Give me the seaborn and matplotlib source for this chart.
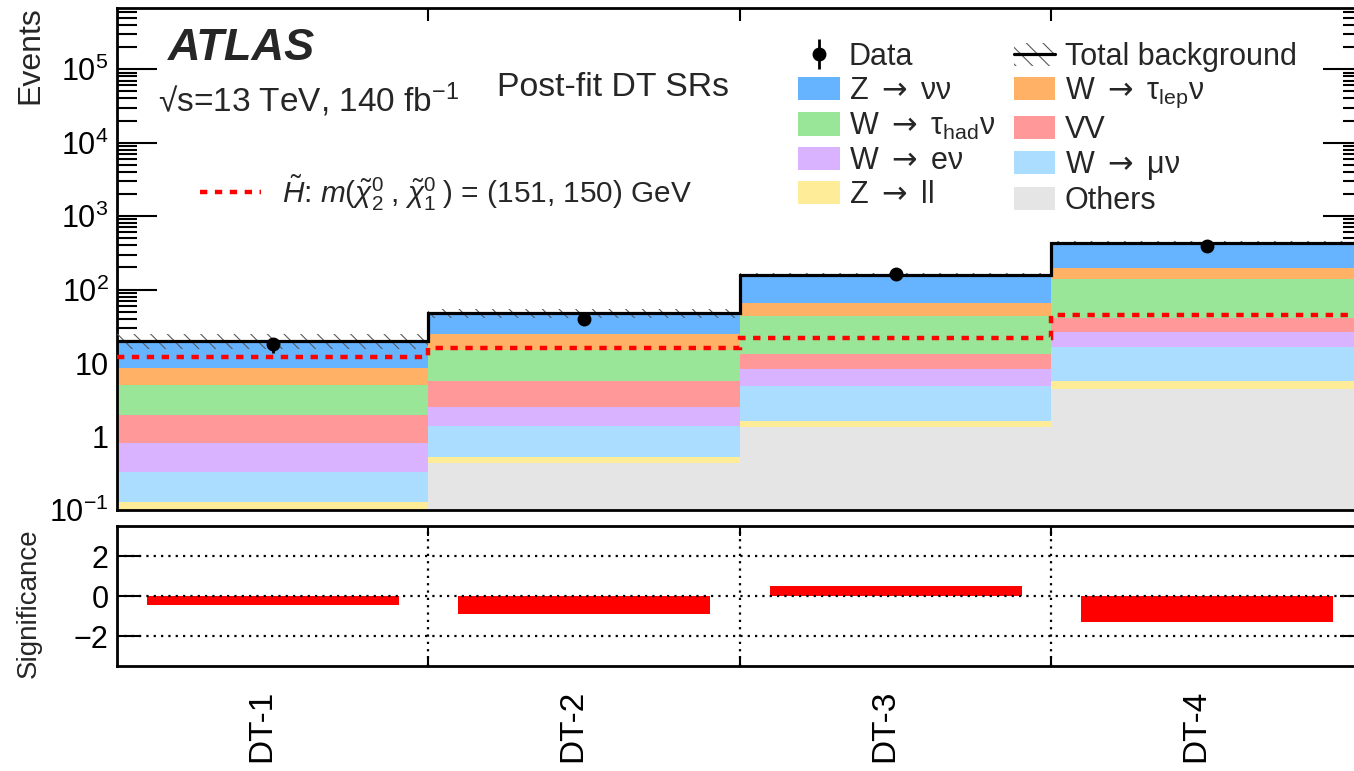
import matplotlib

matplotlib.use("Agg")
import matplotlib.pyplot as plt
import numpy as np
import pandas as pd
import seaborn as sns
from matplotlib.lines import Line2D
from matplotlib.patches import Patch
from matplotlib.ticker import FixedLocator, FuncFormatter, LogLocator, NullFormatter
from matplotlib.transforms import ScaledTranslation

regions = ["DT-1", "DT-2", "DT-3", "DT-4"]

# background processes, top of the stack first
processes = ["Zvv", "Wtaulep", "Wtauhad", "VV", "Wev", "Wmuv", "Zll", "Others"]
ARROW = "$\\mathsf{\\rightarrow}$"
labels = {
    "Zvv": f"Z {ARROW} νν",
    "Wtaulep": f"W {ARROW} τ$_{{\\mathrm{{lep}}}}$ν",
    "Wtauhad": f"W {ARROW} τ$_{{\\mathrm{{had}}}}$ν",
    "VV": "VV",
    "Wev": f"W {ARROW} eν",
    "Wmuv": f"W {ARROW} μν",
    "Zll": f"Z {ARROW} ll",
    "Others": "Others",
}
colors = {
    "Zvv": "#66b3ff",
    "Wtaulep": "#ffb266",
    "Wtauhad": "#99e699",
    "VV": "#ff9999",
    "Wev": "#d9b3ff",
    "Wmuv": "#aaddff",
    "Zll": "#ffec99",
    "Others": "#e5e5e5",
}

# post-fit yields per region
zvv = [11.6, 22.9, 92.0, 232.0]
wtaulep = [3.6, 9.9, 21.6, 59.0]
wtauhad = [3.0, 9.45, 31.0, 97.3]
vv = [1.17, 3.09, 5.0, 13.9]
wev = [0.49, 1.15, 3.36, 10.2]
wmuv = [0.2, 0.88, 3.31, 10.9]
zll = [0.05, 0.09, 0.29, 1.26]
others = [0.08, 0.44, 1.34, 4.46]
bkg_unc = [4.5, 7.0, 9.0, 25.0]

data = [18, 40, 165, 398]
signal = [12.0, 16.1, 21.7, 44.7]
significance = [-0.45, -0.9, 0.5, -1.3]

yields = {
    "Zvv": zvv,
    "Wtaulep": wtaulep,
    "Wtauhad": wtauhad,
    "VV": vv,
    "Wev": wev,
    "Wmuv": wmuv,
    "Zll": zll,
    "Others": others,
}

stack = pd.DataFrame(
    [
        {"region": i, "process": p, "events": yields[p][i]}
        for p in processes
        for i in range(len(regions))
    ]
)
total = np.sum([yields[p] for p in processes], axis=0)
edges = np.arange(len(regions) + 1) - 0.5
centers = np.arange(len(regions))

sns.set_theme(style="white")
plt.rcParams["font.family"] = ["Liberation Sans", "DejaVu Sans"]
plt.rcParams["mathtext.fontset"] = "custom"
plt.rcParams["mathtext.rm"] = "Liberation Sans"
plt.rcParams["mathtext.it"] = "Liberation Sans:italic"
plt.rcParams["mathtext.bf"] = "Liberation Sans:bold"
plt.rcParams["mathtext.sf"] = "DejaVu Sans"
plt.rcParams["axes.edgecolor"] = "black"
plt.rcParams["axes.linewidth"] = 2.0
plt.rcParams["xtick.color"] = "black"
plt.rcParams["ytick.color"] = "black"
plt.rcParams["hatch.linewidth"] = 0.8

fig = plt.figure(figsize=(13.54, 7.71), dpi=100)
W, H = 1354, 771
ax = fig.add_axes([117 / W, 1 - 510 / H, 1246 / W, 502 / H])
ax_sig = fig.add_axes([117 / W, 1 - 666 / H, 1246 / W, 140 / H])

# stacked backgrounds
sns.histplot(
    data=stack,
    x="region",
    weights="events",
    hue="process",
    hue_order=processes,
    palette=colors,
    multiple="stack",
    discrete=True,
    alpha=1,
    linewidth=0,
    legend=False,
    ax=ax,
)
ax.set_yscale("log")

ax.stairs(
    total + np.array(bkg_unc),
    edges,
    baseline=total - np.array(bkg_unc),
    fill=True,
    facecolor="none",
    edgecolor="0.35",
    hatch="\\\\",
    linewidth=0,
    zorder=3,
)
ax.stairs(total, edges, baseline=None, color="black", linewidth=2.3, zorder=4)
signal_style = dict(color="red", linewidth=3.2, linestyle=(0, (1.65, 1.7)))
ax.stairs(signal, edges, baseline=None, zorder=5, **signal_style)
data_handle = ax.errorbar(
    centers,
    data,
    yerr=np.sqrt(data),
    fmt="o",
    color="black",
    markersize=9,
    elinewidth=2,
    capsize=0,
    zorder=6,
)

ax.set_xlim(-0.5, 3.5)
ax.set_ylim(0.1, 6.8e5)
ax.set_xlabel("")
ax.set_ylabel("")


def decade_label(value, _pos):
    exponent = int(round(np.log10(value)))
    if exponent == 0:
        return "1"
    if exponent == 1:
        return "10"
    return f"$10^{{{exponent}}}$"


ax.yaxis.set_major_locator(LogLocator(base=10, numticks=20))
ax.yaxis.set_minor_locator(LogLocator(base=10, subs=np.arange(2, 10), numticks=20))
ax.yaxis.set_major_formatter(FuncFormatter(decade_label))
ax.yaxis.set_minor_formatter(NullFormatter())
ax.xaxis.set_major_locator(FixedLocator(edges[1:-1]))
ax.tick_params(axis="x", which="major", direction="in", top=True, bottom=True,
               length=9.5, width=1.5, labelbottom=False)
ax.tick_params(axis="y", which="major", direction="in", left=True, right=True,
               length=29, width=1.5, labelsize=22, pad=6)
ax.tick_params(axis="y", which="minor", direction="in", left=True, right=True,
               length=14.5, width=1.5)
fig.text(30 / W, 1 - 6 / H, "Events", rotation=90, ha="center", va="top", fontsize=23)

# text labels
fig.text(168 / W, 1 - 60 / H, "ATLAS", fontsize=32.5, fontweight="bold",
         fontstyle="italic", va="baseline")
fig.text(158 / W, 1 - 112 / H, "√s=13 TeV, 140 fb$^{-1}$", fontsize=24, va="baseline")
fig.text(497 / W, 1 - 96 / H, "Post-fit DT SRs", fontsize=24.3, va="baseline")

# background legend
total_handle = (
    Patch(facecolor="none", edgecolor="0.35", hatch="\\\\", linewidth=0),
    Line2D([], [], color="black", linewidth=2.3),
)
col1 = ["Zvv", "Wtauhad", "Wev", "Zll"]
col2 = ["Wtaulep", "VV", "Wmuv", "Others"]
handles = [data_handle] + [Patch(color=colors[p], linewidth=0) for p in col1]
handles += [total_handle] + [Patch(color=colors[p], linewidth=0) for p in col2]
names = ["Data"] + [labels[p] for p in col1] + ["Total background"] + [labels[p] for p in col2]
leg = ax.legend(
    handles,
    names,
    ncol=2,
    loc="upper left",
    bbox_to_anchor=(798 / W, 1 - 42 / H),
    bbox_transform=fig.transFigure,
    frameon=False,
    fontsize=22,
    handlelength=1.36,
    handleheight=0.79,
    handletextpad=0.3,
    columnspacing=0.62,
    labelspacing=0.14,
    borderpad=0,
    borderaxespad=0,
)
ax.add_artist(leg)

sig_handle = Line2D([], [], **signal_style)
sig_label = ("$\\tilde{H}$: $m(\\tilde{\\chi}^{0}_{2}\\;$, "
             "$\\tilde{\\chi}^{0}_{1}\\;)$ = (151, 150) GeV")
ax.legend(
    [sig_handle],
    [sig_label],
    loc="center left",
    bbox_to_anchor=(200 / W, 1 - 193 / H),
    bbox_transform=fig.transFigure,
    frameon=False,
    fontsize=21.4,
    handlelength=2.05,
    handletextpad=0.7,
    borderpad=0,
    borderaxespad=0,
)

# significance panel
sns.barplot(x=regions, y=significance, color="red", saturation=1, width=0.81,
            linewidth=0, errorbar=None, ax=ax_sig)
grid_style = dict(color="black", linestyle=(0, (1.0, 2.3)), linewidth=1.6, zorder=3)
for level in (-2, 0, 2):
    ax_sig.axhline(level, **grid_style)
for boundary in edges[1:-1]:
    ax_sig.axvline(boundary, **grid_style)
ax_sig.set_xlim(-0.5, 3.5)
ax_sig.set_ylim(-3.5, 3.5)
ax_sig.set_yticks([-2, 0, 2])
ax_sig.set_xticks(centers)
ax_sig.set_xticklabels(regions, rotation=90)
ax_sig.xaxis.set_minor_locator(FixedLocator(edges[1:-1]))
ax_sig.tick_params(axis="x", which="major", length=0, labelsize=24, pad=17)
ax_sig.tick_params(axis="x", which="minor", direction="in", top=True, bottom=True,
                   length=7, width=1.5)
ax_sig.tick_params(axis="y", which="major", direction="in", left=True, right=True,
                   length=16.5, width=1.5, labelsize=22, pad=6)
for tick_label in ax_sig.get_xticklabels():
    tick_label.set_transform(
        tick_label.get_transform() + ScaledTranslation(-11 / 100, 0, fig.dpi_scale_trans)
    )
ax_sig.set_xlabel("")
ax_sig.set_ylabel("")
fig.text(29 / W, 1 - 603 / H, "Significance", rotation=90, ha="center", va="center",
         fontsize=20)

fig.savefig("out.png", dpi=100)
